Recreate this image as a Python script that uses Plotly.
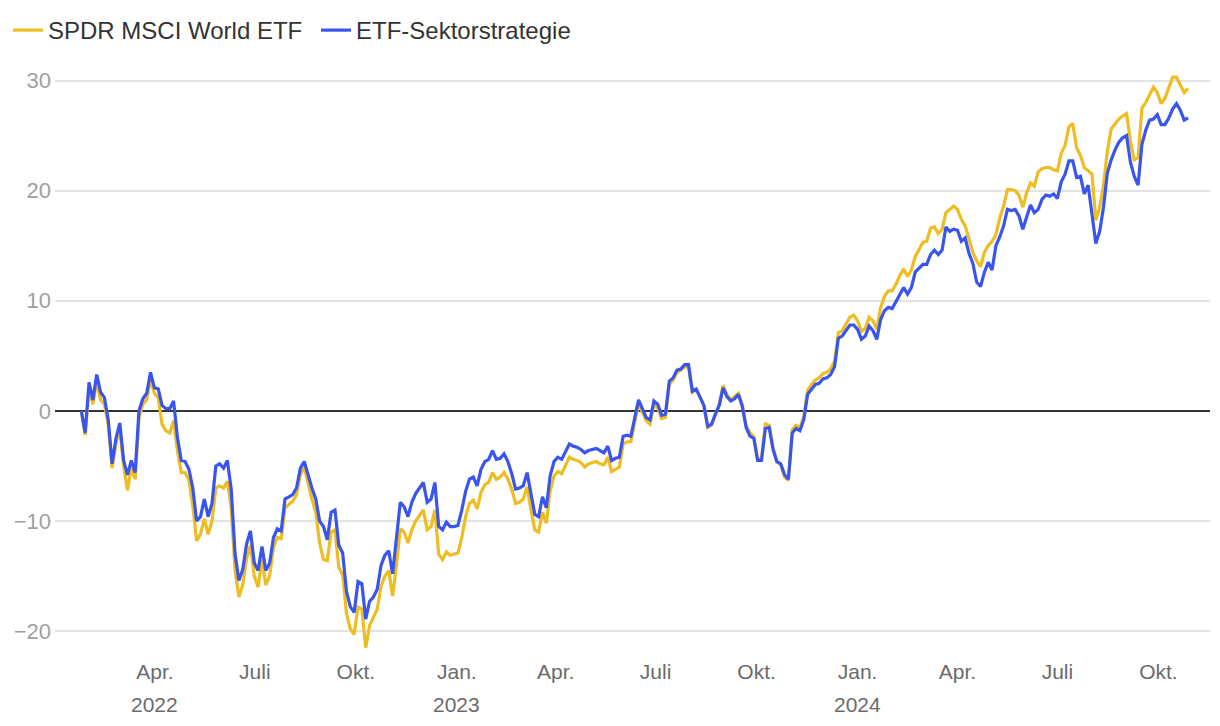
import pandas as pd
import plotly.graph_objects as go

# performance in %, two closes per week (Mon / Thu)
dates = pd.date_range("2022-01-24", periods=289, freq="84h")

msci_world = [
    0.0, -2.2, 2.0, 0.6, 2.7, 1.0, 0.6, -1.3, -5.2, -3.0,
    -1.6, -5.0, -7.2, -5.2, -6.2, -0.6, 0.6, 1.0, 2.9, 1.6,
    1.2, -1.2, -1.8, -2.0, -0.9, -3.6, -5.6, -5.6, -6.3, -8.6,
    -11.8, -11.2, -9.8, -11.2, -10.0, -7.0, -6.8, -7.0, -6.4, -8.8,
    -14.5, -16.9, -15.8, -13.4, -12.2, -15.0, -16.0, -13.5, -15.8, -15.0,
    -12.4, -11.5, -11.6, -8.8, -8.5, -8.2, -7.6, -5.8, -5.1, -6.6,
    -8.0, -9.2, -12.0, -13.5, -13.6, -11.0, -10.8, -14.2, -14.9, -18.4,
    -19.8, -20.3, -17.8, -18.0, -21.5, -19.5, -18.7, -18.0, -15.9, -15.0,
    -14.5, -16.8, -14.0, -10.7, -11.0, -12.0, -10.8, -10.0, -9.5, -9.0,
    -10.8, -10.5, -9.0, -13.0, -13.5, -12.8, -13.1, -13.0, -12.9, -11.5,
    -9.6, -8.4, -8.1, -8.9, -7.4, -6.7, -6.5, -5.6, -6.2, -6.0,
    -5.6, -6.2, -7.1, -8.4, -8.3, -8.0, -6.9, -9.0, -10.8, -11.0,
    -9.2, -10.2, -7.3, -5.9, -5.5, -5.7, -4.9, -4.2, -4.4, -4.5,
    -4.7, -5.1, -4.8, -4.7, -4.6, -4.8, -4.9, -4.2, -5.5, -5.3,
    -5.1, -3.0, -2.8, -2.8, -1.1, 0.7, -0.1, -0.9, -1.2, 0.6,
    0.3, -0.7, -0.6, 2.4, 2.8, 3.5, 3.7, 4.0, 4.0, 1.7,
    1.9, 1.3, 0.5, -1.5, -1.3, -0.3, 0.6, 2.3, 1.5, 1.0,
    1.3, 1.6, 0.6, -1.3, -2.0, -2.3, -4.4, -4.3, -1.2, -1.3,
    -3.3, -4.6, -4.9, -6.0, -6.3, -1.7, -1.3, -1.5, -0.5, 1.9,
    2.4, 2.8, 3.0, 3.4, 3.5, 3.8, 4.5, 7.1, 7.3, 7.9,
    8.5, 8.7, 8.2, 7.2, 7.5, 8.5, 8.2, 7.4, 9.4, 10.4,
    10.9, 10.9, 11.5, 12.3, 12.9, 12.2, 12.8, 14.0, 14.6, 15.3,
    15.4, 16.6, 16.7, 16.1, 16.5, 18.0, 18.3, 18.6, 18.3, 17.4,
    16.8, 15.6, 14.4, 13.6, 13.1, 14.4, 15.0, 15.4, 16.0, 17.5,
    18.6, 20.1, 20.1, 20.0, 19.6, 18.5, 19.8, 20.7, 20.4, 21.7,
    22.0, 22.1, 22.1, 21.9, 21.8, 23.4, 24.1, 25.8, 26.1, 23.9,
    23.2, 22.1, 21.8, 21.5, 17.3, 18.5, 20.5, 23.6, 25.6, 26.1,
    26.5, 26.8, 27.0, 24.5, 22.8, 23.0, 27.5, 28.0, 28.7, 29.4,
    28.9, 27.9, 28.4, 29.3, 30.3, 30.3, 29.6, 28.9, 29.3,
]

sektor = [
    0.0, -2.0, 2.6, 1.0, 3.3, 1.7, 1.2, -0.8, -4.8, -2.5,
    -1.1, -4.5, -5.8, -4.5, -5.6, 0.0, 1.1, 1.6, 3.5, 2.1,
    2.0, 0.5, 0.2, 0.2, 0.9, -2.4, -4.5, -4.6, -5.3, -7.0,
    -10.0, -9.6, -8.0, -9.6, -8.4, -5.0, -4.8, -5.2, -4.5, -7.1,
    -13.0, -15.4, -14.4, -12.1, -10.9, -13.8, -14.5, -12.3, -14.5, -13.8,
    -11.5, -10.7, -10.9, -8.0, -7.8, -7.6, -7.0, -5.2, -4.6, -5.9,
    -7.0, -8.0, -10.0, -10.5, -11.7, -9.2, -9.0, -12.2, -12.9, -16.4,
    -17.8, -18.3, -15.5, -15.7, -18.9, -17.3, -16.9, -16.2, -14.0, -13.1,
    -12.7, -14.8, -11.8, -8.3, -8.7, -9.6, -8.3, -7.5, -7.0, -6.5,
    -8.3, -8.0, -6.5, -10.5, -10.8, -10.1, -10.5, -10.5, -10.4, -9.0,
    -7.3, -6.2, -6.0, -6.8, -5.3, -4.6, -4.4, -3.6, -4.4, -4.3,
    -3.9, -4.6, -5.7, -7.1, -7.0, -6.8, -5.6, -7.7, -9.4, -9.6,
    -7.8, -8.8, -5.9, -4.6, -4.2, -4.4, -3.7, -3.0, -3.2, -3.3,
    -3.5, -3.8, -3.6, -3.5, -3.4, -3.6, -3.8, -3.2, -4.5, -4.3,
    -4.2, -2.3, -2.2, -2.3, -0.7, 1.0, 0.2, -0.6, -0.8, 0.9,
    0.6, -0.4, -0.3, 2.7, 3.0, 3.7, 3.8, 4.2, 4.2, 1.8,
    2.0, 1.3, 0.5, -1.4, -1.2, -0.3, 0.5, 2.1, 1.3, 0.9,
    1.1, 1.5, 0.4, -1.5, -2.3, -2.5, -4.5, -4.5, -1.6, -1.5,
    -3.5, -4.6, -4.8, -5.8, -6.2, -2.0, -1.6, -1.8, -0.8, 1.5,
    2.0, 2.4, 2.5, 2.9, 3.0, 3.3, 4.0, 6.6, 6.8, 7.3,
    7.8, 7.8, 7.4, 6.5, 6.8, 7.7, 7.3, 6.5, 8.3, 9.1,
    9.4, 9.3, 9.9, 10.5, 11.2, 10.6, 11.2, 12.6, 13.0, 13.3,
    13.3, 14.2, 14.6, 14.2, 14.6, 16.7, 16.3, 16.5, 16.4, 15.4,
    15.7, 14.3, 13.4, 11.7, 11.3, 12.6, 13.5, 12.8, 15.0, 15.8,
    16.8, 18.3, 18.2, 18.3, 17.7, 16.5, 17.6, 18.7, 18.0, 18.3,
    19.2, 19.6, 19.5, 19.7, 19.3, 20.8, 21.5, 22.7, 22.7, 21.2,
    21.3, 19.7, 20.5, 18.0, 15.2, 16.3, 18.5, 21.6, 22.8, 23.7,
    24.4, 24.8, 25.0, 22.6, 21.3, 20.5, 24.2, 25.5, 26.4, 26.5,
    26.9, 26.0, 26.0, 26.6, 27.4, 27.9, 27.3, 26.4, 26.6,
]

tick_dates = ["2022-04-01", "2022-07-01", "2022-10-01", "2023-01-01", "2023-04-01",
              "2023-07-01", "2023-10-01", "2024-01-01", "2024-04-01", "2024-07-01",
              "2024-10-01"]
tick_text = ["Apr.", "Juli", "Okt.", "Jan.", "Apr.", "Juli", "Okt.",
             "Jan.", "Apr.", "Juli", "Okt."]
year_dates = ["2022-04-01", "2023-01-01", "2024-01-01"]
year_text = ["2022", "2023", "2024"]

fig = go.Figure()
fig.add_trace(go.Scatter(x=dates, y=msci_world, name="SPDR MSCI World ETF", mode="lines",
                         line=dict(color="#EDBD22", width=3.2)))
fig.add_trace(go.Scatter(x=dates, y=sektor, name="ETF-Sektorstrategie", mode="lines",
                         line=dict(color="#3A55EE", width=3.2)))

for d, t in zip(year_dates, year_text):
    fig.add_annotation(x=d, y=0, xref="x", yref="paper", text=t, showarrow=False,
                       yanchor="middle", yshift=-53, font=dict(size=21, color="#6b6b6b"))

# page body adds 8px, so the figure is 8px smaller than the window
fig.update_layout(
    width=1212, height=718,
    plot_bgcolor="white", paper_bgcolor="white",
    font=dict(family="Liberation Sans, Arial, sans-serif", size=20, color="#333"),
    margin=dict(l=47, r=10, t=55.5, b=75, autoexpand=False),
    showlegend=True,
    legend=dict(orientation="h", xref="container", yref="container", x=0.0, y=1.0,
                xanchor="left", yanchor="top", entrywidth=263,
                font=dict(size=24, color="#333")),
    xaxis=dict(range=["2021-12-31", "2024-11-17"], tickvals=tick_dates, ticktext=tick_text,
               showgrid=False, zeroline=False, showline=False, ticks="",
               ticklabelstandoff=6, tickfont=dict(color="#6b6b6b", size=21)),
    yaxis=dict(range=[-21.8, 31.5], tickvals=[-20, -10, 0, 10, 20, 30], showgrid=True,
               gridcolor="#e3e3e3", gridwidth=1.5, zeroline=True, zerolinecolor="#333",
               zerolinewidth=1.5, ticks="", ticklabelstandoff=3,
               tickfont=dict(color="#a0a0a0", size=22)),
)

fig.write_html("out.html")
